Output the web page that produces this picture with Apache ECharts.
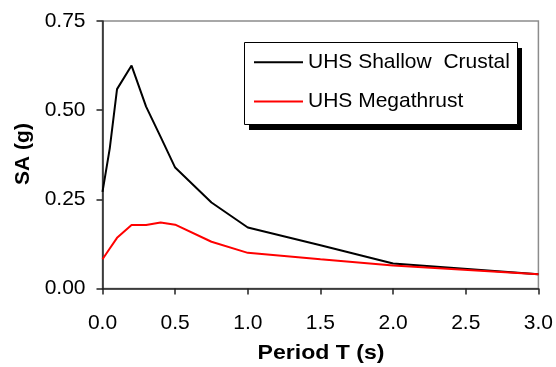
<!DOCTYPE html>
<html>
<head>
<meta charset="utf-8">
<script src="https://cdn.jsdelivr.net/npm/echarts@6/dist/echarts.min.js"></script>
<style>
  html, body { margin: 0; padding: 0; background: #fff; }
  #chart { width: 556px; height: 367px; }
</style>
</head>
<body>
<div id="chart"></div>
<script>
// Spectral periods (s) shared by both spectra
const periods = [0, 0.05, 0.1, 0.2, 0.3, 0.4, 0.5, 0.75, 1.0, 1.5, 2.0, 3.0];
// Uniform hazard spectra, SA (g)
const shallowCrustal = [0.271, 0.393, 0.559, 0.625, 0.510, 0.425, 0.339, 0.241, 0.171, 0.121, 0.070, 0.040];
const megathrust     = [0.082, 0.112, 0.142, 0.178, 0.178, 0.185, 0.179, 0.131, 0.100, 0.082, 0.0645, 0.040];
const seriesNames = ['UHS Shallow  Crustal', 'UHS Megathrust'];
const xTicks = [0, 0.5, 1.0, 1.5, 2.0, 2.5, 3.0];
const yTicks = [0, 0.25, 0.5, 0.75];

const font = 'Arial, "Liberation Sans", sans-serif';
const pairs = vals => periods.map((t, i) => [t, vals[i]]);

// Legend frame: white box with a hard black drop shadow
const box = { x: 244.5, y: 42.5, w: 273, h: 82 };

const chart = echarts.init(document.getElementById('chart'), null, { renderer: 'canvas' });
chart.setOption({
  animation: false,
  backgroundColor: '#fff',
  grid: {
    left: 102.5, right: 16.5, top: 21, bottom: 78.5,
    show: true, borderColor: '#8c8c8c', borderWidth: 1.5, backgroundColor: 'transparent'
  },
  xAxis: {
    type: 'value', min: xTicks[0], max: xTicks[xTicks.length - 1], interval: 0.5,
    axisLine: { show: true, onZero: false, lineStyle: { color: '#222', width: 1.5 } },
    axisTick: { show: true, inside: false, length: 6, lineStyle: { color: '#222', width: 1.5 } },
    splitLine: { show: false },
    axisLabel: { margin: 24, fontFamily: font, fontSize: 21, color: '#000', formatter: v => v.toFixed(1) }
  },
  yAxis: {
    type: 'value', min: yTicks[0], max: yTicks[yTicks.length - 1], interval: 0.25,
    axisLine: { show: true, onZero: false, lineStyle: { color: '#222', width: 1.5 } },
    axisTick: { show: true, inside: false, length: 6, lineStyle: { color: '#222', width: 1.5 } },
    splitLine: { show: false },
    axisLabel: { margin: 17, fontFamily: font, fontSize: 21, color: '#000', formatter: v => v.toFixed(2) }
  },
  legend: {
    orient: 'vertical', left: 254, top: 51.7,
    padding: 0,
    icon: 'rect',
    itemWidth: 49, itemHeight: 2, itemGap: 18.3, itemTextGap: 7,
    textStyle: { fontFamily: font, fontSize: 21, lineHeight: 20, color: '#000' },
    data: seriesNames,
    z: 10
  },
  series: [
    {
      name: seriesNames[0], type: 'line', data: pairs(shallowCrustal),
      symbol: 'none', lineStyle: { color: '#000', width: 2 }, itemStyle: { color: '#000' }
    },
    {
      name: seriesNames[1], type: 'line', data: pairs(megathrust),
      symbol: 'none', lineStyle: { color: '#ff0000', width: 2 }, itemStyle: { color: '#ff0000' }
    }
  ],
  graphic: [
    {
      type: 'rect', z: 5,
      shape: { x: box.x + 4.5, y: box.y + 5.5, width: box.w, height: box.h },
      style: { fill: '#000' }
    },
    {
      type: 'rect', z: 6,
      shape: { x: box.x, y: box.y, width: box.w, height: box.h },
      style: { fill: '#fff', stroke: '#000', lineWidth: 1 }
    },
    {
      type: 'text', x: 321, y: 353, scaleX: 1.1,
      style: { text: 'Period T (s)', fontFamily: font, fontSize: 21, fontWeight: 'bold', fill: '#000',
               align: 'center', verticalAlign: 'middle' }
    },
    {
      type: 'text', x: 23, y: 154, rotation: Math.PI / 2,
      style: { text: 'SA (g)', fontFamily: font, fontSize: 21, fontWeight: 'bold', fill: '#000',
               align: 'center', verticalAlign: 'middle' }
    }
  ]
});
</script>
</body>
</html>
